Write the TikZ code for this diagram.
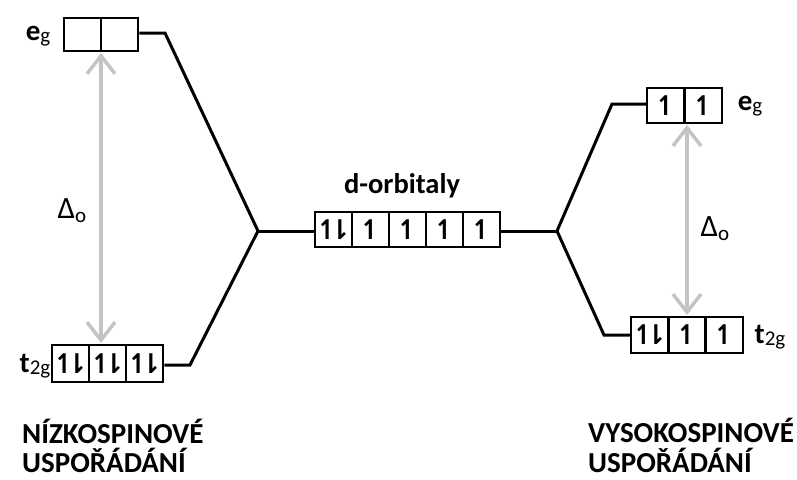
\documentclass[tikz,border=0pt]{standalone}
\usepackage{fontspec}
\setmainfont{Carlito}
\newfontfamily\arrfont{DejaVu Sans}
\usetikzlibrary{arrows.meta}
\definecolor{agrey}{HTML}{C4C4C4}
\newcommand{\up}{{\arrfont\fontsize{27}{27}\selectfont\textbf{↿}}}
\newcommand{\pair}{{\arrfont\fontsize{27}{27}\selectfont\textbf{↿\kern-10pt⇂}}}
\tikzset{
  cell/.style={draw, line width=2.5pt, inner sep=0pt, minimum width=37pt},
  conn/.style={line width=3pt, line join=miter},
  gap/.style={agrey, line width=3.5pt, {Straight Barb[length=18pt,width=28pt]}-{Straight Barb[length=18pt,width=28pt]}},
  lbl/.style={inner sep=0pt},
  title/.style={inner sep=0pt, anchor=base west, font=\bfseries\fontsize{29}{29}\selectfont}
}
\newcommand{\eg}{{\fontsize{29}{29}\selectfont\textbf{e}}\raisebox{-2pt}{\fontsize{21}{21}\selectfont g}}
\newcommand{\ttg}{{\fontsize{29}{29}\selectfont\textbf{t}}\raisebox{-2pt}{\fontsize{21}{21}\selectfont 2g}}
\newcommand{\Dlt}{{\fontsize{31}{31}\selectfont Δ}\raisebox{-4pt}{\fontsize{21}{21}\selectfont o}}
\begin{document}
\begin{tikzpicture}[x=1pt,y=-1pt]
\useasboundingbox (0,0) rectangle (797,479);
% left e_g
\node[cell, minimum height=33pt] (LE1) at (82.5,34.5) {};
\node[cell, minimum height=33pt] (LE2) at (119.5,34.5) {};
% left t2g
\node[cell, minimum height=37pt] (LT1) at (70.5,363.5) {\pair};
\node[cell, minimum height=37pt] (LT2) at (107.5,363.5) {\pair};
\node[cell, minimum height=37pt] (LT3) at (144.5,363.5) {\pair};
% centre d
\node[cell, minimum height=35pt] (D1) at (333.5,229.5) {\pair};
\node[cell, minimum height=35pt] (D2) at (370.5,229.5) {\up};
\node[cell, minimum height=35pt] (D3) at (407.5,229.5) {\up};
\node[cell, minimum height=35pt] (D4) at (444.5,229.5) {\up};
\node[cell, minimum height=35pt] (D5) at (481.5,229.5) {\up};
% right e_g
\node[cell, minimum height=35pt, minimum width=37.5pt] (RE1) at (665.75,105.5) {\up};
\node[cell, minimum height=35pt, minimum width=37.5pt] (RE2) at (703.25,105.5) {\up};
% right t2g
\node[cell, minimum height=36pt, minimum width=37.33pt] (RT1) at (649.7,335) {\pair};
\node[cell, minimum height=36pt, minimum width=37.33pt] (RT2) at (687,335) {\up};
\node[cell, minimum height=36pt, minimum width=37.33pt] (RT3) at (724.3,335) {\up};
% junctions and corners
\coordinate (JL) at (258,231);
\coordinate (JR) at (557,231);
\coordinate (cLE) at (165,33);
\coordinate (cLT) at (190,365);
\coordinate (cRE) at (612,104);
\coordinate (cRT) at (604,335);
\draw[conn] (LE2.east |- cLE) -- (cLE) -- (JL) -- (cLT) -- (LT3.east |- cLT);
\draw[conn] (JL) -- (D1.west |- JL);
\draw[conn] (D5.east |- JR) -- (JR);
\draw[conn] (RE1.west |- cRE) -- (cRE) -- (JR) -- (cRT) -- (RT1.west |- cRT);
% gaps
\coordinate (gL1) at (101,53);
\coordinate (gL2) at (101,343);
\coordinate (gR1) at (687,125);
\coordinate (gR2) at (687,315);
\draw[gap] (gL1) -- (gL2);
\draw[gap] (gR1) -- (gR2);
% labels
\node[lbl] (tEL) at (38,36) {\eg};
\node[lbl] (tTL) at (35,366) {\ttg};
\node[lbl] (tER) at (750,106) {\eg};
\node[lbl] (tTR) at (770,337) {\ttg};
\node[lbl] (tDL) at (72,211) {\Dlt};
\node[lbl] (tDR) at (715,229) {\Dlt};
\node[inner sep=0pt, font=\bfseries\fontsize{28.5}{28.5}\selectfont] (tD) at (402,186) {d-orbitaly};
\node[title] (n1) at (22,443) {NÍZKOSPINOVÉ};
\node[title] (n2) at (22,472) {USPOŘÁDÁNÍ};
\node[title] (v1) at (588,442) {VYSOKOSPINOVÉ};
\node[title] (v2) at (588,472) {USPOŘÁDÁNÍ};
\end{tikzpicture}
\end{document}
